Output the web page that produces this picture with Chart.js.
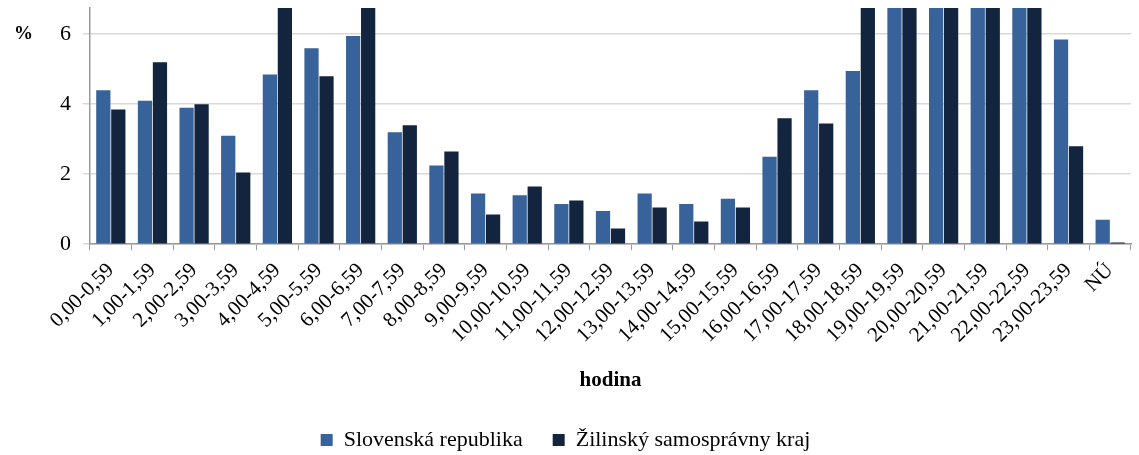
<!DOCTYPE html>
<html>
<head>
<meta charset="utf-8">
<script src="https://cdn.jsdelivr.net/npm/chart.js@4/dist/chart.umd.min.js"></script>
<style>
  html, body { margin: 0; padding: 0; background: #fff; }
  #wrap { width: 1139px; height: 455px; }
</style>
</head>
<body>
<div id="wrap"><canvas id="chart"></canvas></div>
<script>
// hour intervals
const hours = ['0,00-0,59', '1,00-1,59', '2,00-2,59', '3,00-3,59', '4,00-4,59', '5,00-5,59',
    '6,00-6,59', '7,00-7,59', '8,00-8,59', '9,00-9,59', '10,00-10,59', '11,00-11,59',
    '12,00-12,59', '13,00-13,59', '14,00-14,59', '15,00-15,59', '16,00-16,59', '17,00-17,59',
    '18,00-18,59', '19,00-19,59', '20,00-20,59', '21,00-21,59', '22,00-22,59', '23,00-23,59', 'NÚ'];

// % share, values above the visible top are cut off in the source, estimated
const slovensko = [4.4, 4.1, 3.9, 3.1, 4.85, 5.6, 5.95, 3.2, 2.25, 1.45, 1.4, 1.15,
    0.95, 1.45, 1.15, 1.3, 2.5, 4.4, 4.95, 7.2, 7.4, 7.3, 7.1, 5.85, 0.7];
const zilina = [3.85, 5.2, 4.0, 2.05, 7.0, 4.8, 7.2, 3.4, 2.65, 0.85, 1.65, 1.25,
    0.45, 1.05, 0.65, 1.05, 3.6, 3.45, 7.0, 7.6, 7.8, 7.5, 7.4, 2.8, 0.05];

const yTicks = [0, 2, 4, 6];

const serif = "'Liberation Serif', 'DejaVu Serif', serif";

// "%" label next to the top tick
const percentLabel = {
    id: 'percentLabel',
    afterDraw(chart) {
        const ctx = chart.ctx;
        const y = chart.scales.y.getPixelForValue(6);
        ctx.save();
        ctx.font = "bold 19px " + serif;
        ctx.fillStyle = '#000';
        ctx.textAlign = 'left';
        ctx.textBaseline = 'middle';
        ctx.fillText('%', 14, y);
        ctx.restore();
    }
};

new Chart(document.getElementById('chart'), {
    type: 'bar',
    data: {
        labels: hours,
        datasets: [{
            label: 'Slovenská republika',
            data: slovensko,
            backgroundColor: '#37629a',
            borderWidth: 0
        }, {
            label: 'Žilinský samosprávny kraj',
            data: zilina,
            backgroundColor: '#13243f',
            borderWidth: 0
        }]
    },
    options: {
        responsive: true,
        maintainAspectRatio: false,
        animation: false,
        layout: { padding: { top: 8, right: 8, left: 0, bottom: -6 } },
        datasets: { bar: { categoryPercentage: 0.72, barPercentage: 0.95 } },
        plugins: {
            tooltip: { enabled: false },
            legend: {
                position: 'bottom',
                labels: {
                    color: '#000',
                    font: { family: serif, size: 22 },
                    boxWidth: 12,
                    boxHeight: 12,
                    padding: 30
                }
            }
        },
        scales: {
            x: {
                grid: {
                    offset: true,
                    drawOnChartArea: false,
                    color: '#999',
                    tickLength: 6
                },
                border: { color: '#999', width: 1.5 },
                ticks: {
                    autoSkip: false,
                    maxRotation: 45,
                    minRotation: 45,
                    color: '#000',
                    padding: 8,
                    font: { family: serif, size: 21 }
                },
                title: {
                    display: true,
                    text: 'hodina',
                    color: '#000',
                    font: { family: serif, size: 21, weight: 'bold' },
                    padding: { top: 12, bottom: 6 }
                }
            },
            y: {
                min: 0,
                max: 6.75,
                afterBuildTicks(scale) {
                    scale.ticks = yTicks.map(v => ({ value: v }));
                },
                afterFit(scale) {
                    scale.width = 90;
                    scale.paddingTop = 0;
                    scale.paddingBottom = 0;
                },
                grid: {
                    color: '#d9d9d9',
                    lineWidth: 1.5,
                    tickLength: 7
                },
                border: { color: '#999', width: 1.5 },
                ticks: {
                    color: '#000',
                    padding: 12,
                    font: { family: serif, size: 22 }
                }
            }
        }
    },
    plugins: [percentLabel]
});
</script>
</body>
</html>
